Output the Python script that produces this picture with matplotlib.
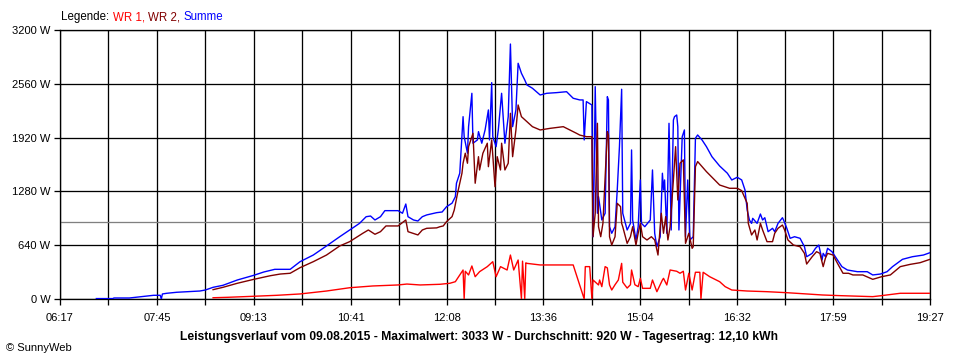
"""Daily PV power curve (SunnyWeb style) for 09.08.2015."""

import matplotlib

matplotlib.use("Agg")
import matplotlib.pyplot as plt  # noqa: E402

plt.rcParams["font.family"] = ["Liberation Sans", "DejaVu Sans"]
plt.rcParams["font.size"] = 8

# ---------------------------------------------------------------------------
# Data
# ---------------------------------------------------------------------------

SUMME_TIME = [
    "06:50", "07:05", "07:06", "07:20", "07:24", "07:30", "07:36", "07:42", "07:48", "07:49",
    "07:50", "07:54", "08:03", "08:24", "08:29", "08:36", "08:45", "08:58", "09:13", "09:22",
    "09:32", "09:46", "09:55", "10:07", "10:19", "10:31", "10:40", "10:49", "10:55", "10:59",
    "11:03", "11:08", "11:12", "11:24", "11:28", "11:31", "11:33", "11:38", "11:42", "11:46",
    "11:50", "11:59", "12:04", "12:08", "12:13", "12:16", "12:17", "12:20", "12:23", "12:24",
    "12:27", "12:28", "12:31", "12:32", "12:36", "12:37", "12:40", "12:43", "12:46", "12:47",
    "12:49", "12:50", "12:53", "12:55", "12:58", "13:01", "13:04", "13:06", "13:08", "13:11",
    "13:13", "13:16", "13:19", "13:21", "13:26", "13:33", "13:39", "13:48", "13:57", "14:03",
    "14:09", "14:12", "14:13", "14:15", "14:20", "14:21", "14:22", "14:23", "14:25", "14:26",
    "14:29", "14:32", "14:34", "14:35", "14:36", "14:38", "14:41", "14:43", "14:45", "14:47",
    "14:48", "14:52", "14:55", "14:56", "14:57", "15:00", "15:02", "15:04", "15:05", "15:08",
    "15:13", "15:15", "15:17", "15:19", "15:22", "15:24", "15:25", "15:26", "15:28", "15:30",
    "15:32", "15:34", "15:35", "15:37", "15:38", "15:39", "15:42", "15:44", "15:45", "15:47",
    "15:49", "15:52", "15:54", "15:56", "16:00", "16:04", "16:09", "16:16", "16:23", "16:27",
    "16:32", "16:36", "16:39", "16:41", "16:43", "16:45", "16:46", "16:50", "16:53", "16:55",
    "16:57", "17:00", "17:04", "17:06", "17:09", "17:13", "17:14", "17:17", "17:20", "17:24",
    "17:29", "17:33", "17:35", "17:40", "17:43", "17:46", "17:49", "17:50", "17:52", "17:54",
    "17:58", "18:02", "18:07", "18:12", "18:21", "18:30", "18:35", "18:42", "18:48", "18:53",
    "19:02", "19:11", "19:21", "19:27",
]
SUMME_W = [
    5, 5, 12, 12, 18, 27, 36, 44, 44, 0,
    60, 68, 80, 95, 107, 139, 163, 226, 282, 321,
    353, 353, 444, 523, 631, 741, 821, 900, 979, 987,
    940, 979, 1051, 1051, 1020, 1130, 979, 940, 928, 979,
    1000, 1027, 1035, 1098, 1140, 1217, 1377, 1496, 2169, 1931,
    1734, 2050, 2447, 1853, 1892, 1991, 1853, 2011, 2249, 1892,
    2574, 1931, 1812, 2011, 2447, 1853, 2169, 3033, 2050, 2249,
    2804, 2685, 2606, 2546, 2507, 2427, 2447, 2455, 2466, 2388,
    2368, 2368, 1892, 2348, 2308, 741, 1455, 2526, 1020, 1217,
    940, 1020, 2407, 2368, 860, 782, 860, 1297, 1812, 2495,
    1020, 821, 900, 1773, 940, 702, 860, 1416, 900, 860,
    940, 1535, 782, 622, 741, 1496, 1297, 1416, 782, 2090,
    821, 2129, 2169, 2189, 2050, 821, 1931, 2011, 741, 1416,
    702, 741, 1912, 1951, 1892, 1812, 1693, 1582, 1496, 1416,
    1448, 1416, 1297, 1059, 940, 900, 960, 900, 1011, 940,
    967, 801, 841, 801, 900, 967, 940, 841, 722, 741,
    722, 622, 503, 543, 603, 642, 464, 543, 503, 603,
    563, 484, 385, 345, 325, 325, 286, 297, 325, 385,
    472, 503, 523, 551,
]

WR2_TIME = [
    "08:36", "08:45", "08:58", "09:13", "09:28", "09:37", "09:46", "09:55", "10:07", "10:19",
    "10:31", "10:40", "10:52", "10:57", "11:03", "11:08", "11:13", "11:24", "11:31", "11:33",
    "11:42", "11:46", "11:50", "11:59", "12:02", "12:05", "12:08", "12:13", "12:15", "12:18",
    "12:22", "12:23", "12:25", "12:27", "12:28", "12:32", "12:34", "12:37", "12:38", "12:41",
    "12:45", "12:46", "12:49", "12:52", "12:54", "12:57", "12:58", "13:01", "13:04", "13:06",
    "13:08", "13:11", "13:13", "13:16", "13:21", "13:26", "13:33", "13:42", "13:54", "14:00",
    "14:06", "14:09", "14:15", "14:20", "14:21", "14:23", "14:25", "14:26", "14:28", "14:30",
    "14:34", "14:35", "14:36", "14:38", "14:41", "14:43", "14:46", "14:47", "14:48", "14:52",
    "14:55", "14:57", "15:00", "15:02", "15:04", "15:06", "15:10", "15:14", "15:17", "15:20",
    "15:23", "15:25", "15:27", "15:29", "15:31", "15:34", "15:36", "15:38", "15:40", "15:43",
    "15:45", "15:48", "15:51", "15:52", "15:54", "15:56", "16:00", "16:04", "16:10", "16:16",
    "16:25", "16:32", "16:36", "16:41", "16:42", "16:45", "16:48", "16:50", "16:53", "16:55",
    "16:59", "17:04", "17:06", "17:09", "17:13", "17:15", "17:18", "17:23", "17:29", "17:33",
    "17:35", "17:40", "17:44", "17:47", "17:50", "17:52", "17:54", "17:59", "18:03", "18:08",
    "18:13", "18:17", "18:26", "18:35", "18:43", "18:51", "19:00", "19:09", "19:18", "19:27",
]
WR2_W = [
    111, 139, 187, 234, 277, 297, 306, 373, 444, 523,
    631, 682, 782, 821, 770, 801, 869, 869, 940, 801,
    762, 821, 841, 846, 860, 869, 920, 980, 1059, 1258,
    1496, 1615, 1734, 1615, 1812, 1971, 1377, 1693, 1535, 1734,
    1853, 1574, 1892, 1336, 1693, 1535, 1853, 1535, 1615, 2209,
    1693, 2011, 2308, 2169, 2110, 2050, 2011, 2030, 2050, 2011,
    1971, 1950, 1931, 1931, 741, 1020, 2090, 860, 741, 900,
    1991, 1950, 741, 642, 741, 1138, 1099, 900, 860, 662,
    741, 860, 642, 781, 900, 741, 702, 741, 702, 523,
    1020, 782, 980, 702, 860, 1416, 1812, 1178, 1615, 1655,
    662, 782, 603, 622, 1574, 1635, 1574, 1515, 1436, 1356,
    1317, 1317, 1289, 1138, 900, 762, 821, 702, 900, 821,
    682, 682, 782, 841, 880, 821, 702, 642, 622, 543,
    416, 503, 563, 543, 385, 484, 543, 523, 424, 306,
    306, 286, 286, 234, 265, 286, 385, 412, 432, 472,
]

WR1_TIME = [
    "08:36", "08:49", "09:12", "09:34", "09:55", "10:19", "10:40", "11:01", "11:24", "11:32",
    "11:44", "12:02", "12:11", "12:16", "12:18", "12:23", "12:24", "12:25", "12:28", "12:31",
    "12:34", "12:38", "12:45", "12:50", "12:53", "12:57", "13:03", "13:06", "13:09", "13:13",
    "13:16", "13:17", "13:19", "13:20", "13:21", "13:33", "14:03", "14:13", "14:14", "14:18",
    "14:20", "14:21", "14:26", "14:27", "14:29", "14:32", "14:34", "14:36", "14:38", "14:41",
    "14:44", "14:47", "14:48", "14:52", "14:55", "14:56", "14:59", "15:02", "15:04", "15:06",
    "15:13", "15:15", "15:19", "15:24", "15:25", "15:28", "15:31", "15:37", "15:40", "15:43",
    "15:45", "15:48", "15:51", "15:54", "15:58", "15:59", "16:01", "16:07", "16:16", "16:21",
    "16:27", "16:41", "16:59", "17:17", "17:35", "17:49", "18:05", "18:35", "18:43", "19:00",
    "19:27",
]
WR1_W = [
    15, 20, 32, 44, 60, 95, 134, 155, 167, 178,
    167, 175, 187, 206, 246, 345, 0, 330, 286, 393,
    265, 325, 385, 444, 265, 385, 345, 523, 345, 464,
    0, 450, 0, 430, 424, 405, 405, 0, 385, 385,
    0, 226, 167, 226, 147, 385, 370, 167, 107, 170,
    226, 424, 200, 130, 170, 345, 170, 147, 246, 127,
    127, 226, 87, 226, 246, 167, 345, 330, 306, 330,
    107, 306, 107, 318, 318, 0, 318, 265, 206, 147,
    107, 95, 87, 75, 60, 48, 40, 28, 40, 68,
    68,
]

MEAN_W = 920
X_LABELS = ["06:17", "07:45", "09:13", "10:41", "12:08", "13:36", "15:04", "16:32", "17:59", "19:27"]
Y_TICKS = [0, 640, 1280, 1920, 2560, 3200]

TITLE = ("Leistungsverlauf vom 09.08.2015 - Maximalwert: 3033 W - "
         "Durchschnitt: 920 W - Tagesertrag: 12,10 kWh")

RED = "#ff0000"
MAROON = "#800000"
BLUE = "#0000ff"


def to_min(hhmm: str) -> int:
    h, m = hhmm.split(":")
    return int(h) * 60 + int(m)


def minutes(times):
    return [to_min(t) for t in times]


# ---------------------------------------------------------------------------
# Figure
# ---------------------------------------------------------------------------

W, H = 960, 360
fig = plt.figure(figsize=(W / 100, H / 100), dpi=100)
ax = fig.add_axes([60 / W, 1 - 299 / H, 870 / W, 269 / H])

px = 0.72  # one pixel in points

ax.plot(minutes(SUMME_TIME), SUMME_W, color=BLUE, lw=1.0, zorder=3)
ax.plot(minutes(WR2_TIME), WR2_W, color=MAROON, lw=1.0, zorder=4)
ax.plot(minutes(WR1_TIME), WR1_W, color=RED, lw=1.0, zorder=5)
ax.axhline(MEAN_W, color="#808080", lw=1.3 * px, zorder=2)

x0, x1 = to_min(X_LABELS[0]), to_min(X_LABELS[-1])
ax.set_xlim(x0, x1)
ax.set_ylim(0, 3200)

major = [to_min(t) for t in X_LABELS]
minor = [(a + b) / 2 for a, b in zip(major[:-1], major[1:])]
ax.set_xticks(major)
ax.set_xticklabels(X_LABELS)
ax.set_xticks(minor, minor=True)
ax.set_yticks(Y_TICKS)
ax.set_yticklabels([f"{v} W" for v in Y_TICKS])

ax.grid(True, which="both", axis="x", color="black", lw=1.3 * px, zorder=1)
ax.grid(True, which="major", axis="y", color="black", lw=1.3 * px, zorder=1)
ax.tick_params(which="both", direction="out", length=4, width=1.3 * px, color="black",
               labelsize=8, pad=3)
ax.tick_params(axis="x", which="both", pad=6)
for sp in ax.spines.values():
    sp.set_color("black")
    sp.set_linewidth(1.3 * px)

# Legend text, coloured piecewise and chained left to right
y_leg = 1 - 17 / H
renderer = fig.canvas.get_renderer()
x_px = 61
for label, col in [("Legende:", "black"), ("WR 1,", RED), ("WR 2,", MAROON), ("Summe", BLUE)]:
    t = fig.text(x_px / W, y_leg, label, color=col, va="center", fontsize=8.3)
    x_px += t.get_window_extent(renderer).width + 3.5

fig.text(479 / W, 1 - 337 / H, TITLE, ha="center", va="center", fontsize=8.7, fontweight="bold")
fig.text(6 / W, 1 - 348 / H, "© SunnyWeb", ha="left", va="center", fontsize=8)

fig.savefig("out.png", dpi=100, facecolor="white")
